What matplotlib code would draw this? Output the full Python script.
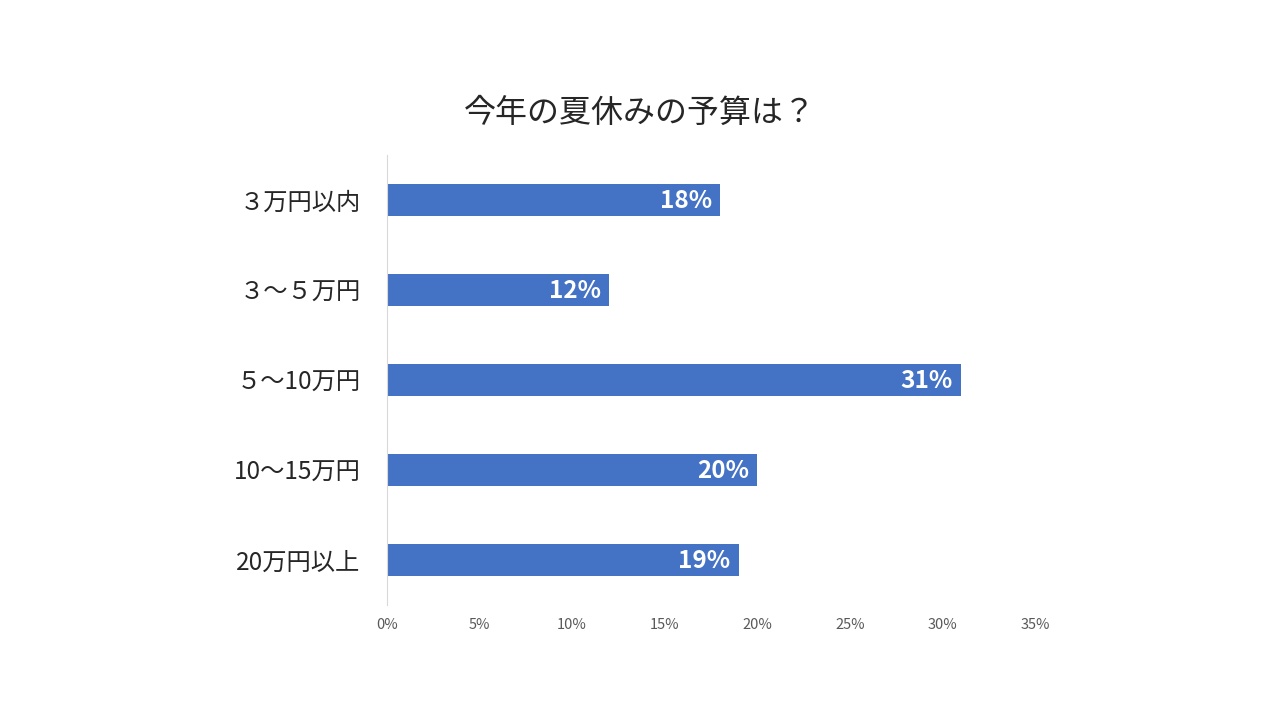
import matplotlib
matplotlib.use('Agg')
from matplotlib import pyplot as plt
from matplotlib.ticker import FuncFormatter

plt.rcParams['font.family'] = ['Noto Sans CJK JP', 'DejaVu Sans']

# data
categories = ['３万円以内', '３～５万円', '５～10万円', '10～15万円', '20万円以上']
shares = [18, 12, 31, 20, 19]
x_ticks = [0, 5, 10, 15, 20, 25, 30, 35]
title = '今年の夏休みの予算は？'


def main():
    fig = plt.figure(figsize=(12.8, 7.2), dpi=100)
    ax = fig.add_axes([0.3023, 0.1597, 0.5063, 0.625])

    ypos = list(range(len(categories)))
    bars = ax.barh(ypos, shares, height=0.355, color='#4472C4')
    ax.set_ylim(len(categories) - 0.5, -0.5)
    ax.set_xlim(0, 35)

    ax.set_yticks(ypos)
    ax.set_yticklabels(categories, fontsize=17.5, color='#262626')
    ax.set_xticks(x_ticks)
    ax.xaxis.set_major_formatter(FuncFormatter(lambda v, p: f'{v:.0f}%'))
    ax.tick_params(axis='x', length=0, labelsize=10.5, colors='#595959', pad=9)
    ax.tick_params(axis='y', length=0, pad=19)

    for s in ['top', 'right', 'bottom']:
        ax.spines[s].set_visible(False)
    ax.spines['left'].set_color('#D9D9D9')

    for bar, val in zip(bars, shares):
        ax.annotate(f'{val}%', xy=(bar.get_width(), bar.get_y() + bar.get_height() / 2),
                    xytext=(-6, -1), textcoords='offset points', ha='right', va='center',
                    color='white', fontsize=17.5, fontweight='bold')

    fig.text(0.5, 0.843, title, ha='center', va='center', fontsize=23, color='#262626')

    fig.savefig('out.png', dpi=100)


if __name__ == '__main__':
    main()
